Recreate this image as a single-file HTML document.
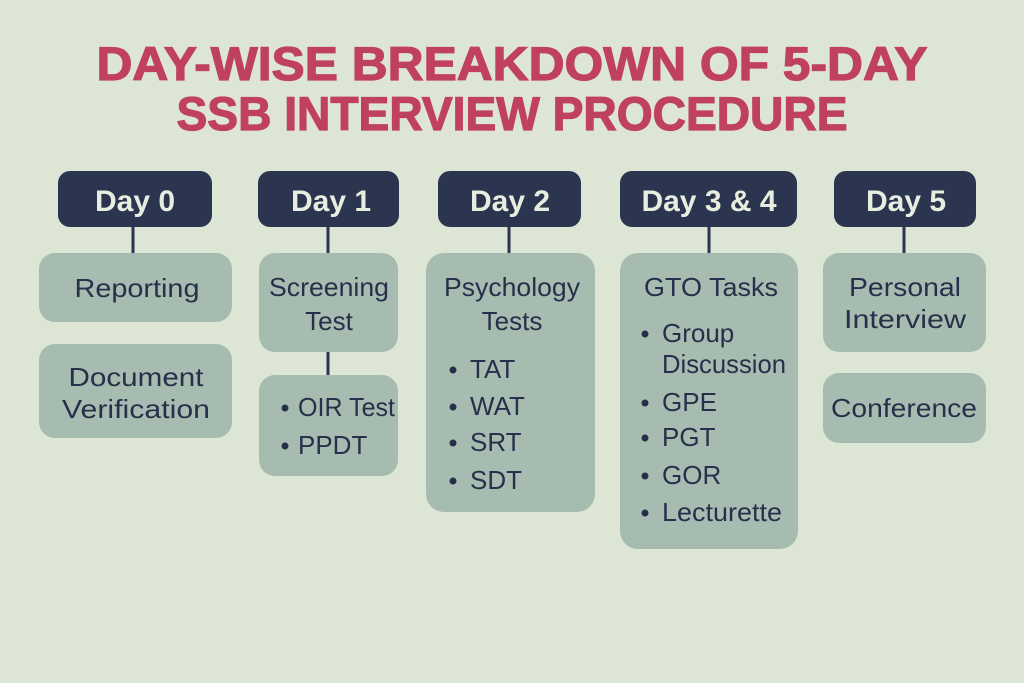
<!DOCTYPE html>
<html><head><meta charset="utf-8"><style>
html,body{margin:0;padding:0;background:#dde6d5;}
svg{display:block;}
.t{font-family:"Liberation Sans",sans-serif;}
.h{font-family:"Liberation Sans",sans-serif;font-weight:bold;font-size:30px;fill:#e8eedf;text-anchor:middle;}
.b{font-family:"Liberation Sans",sans-serif;font-size:26px;fill:#27304a;}
.c{text-anchor:middle;}
</style></head><body>
<svg width="1024" height="683" viewBox="0 0 1024 683" xmlns="http://www.w3.org/2000/svg">
<rect width="1024" height="683" fill="#dde6d5"/>
<text class="t" x="512" y="80" text-anchor="middle" font-weight="bold" font-size="47" fill="#c0415f" stroke="#c0415f" stroke-width="1.2" textLength="831" lengthAdjust="spacingAndGlyphs">DAY-WISE BREAKDOWN OF 5-DAY</text>
<text class="t" x="512" y="130" text-anchor="middle" font-weight="bold" font-size="47" fill="#c0415f" stroke="#c0415f" stroke-width="1.2" textLength="671" lengthAdjust="spacingAndGlyphs">SSB INTERVIEW PROCEDURE</text>
<g stroke="#2c3550" stroke-width="3">
<line x1="133" y1="226" x2="133" y2="254"/>
<line x1="328" y1="226" x2="328" y2="254"/>
<line x1="509" y1="226" x2="509" y2="254"/>
<line x1="709" y1="226" x2="709" y2="254"/>
<line x1="904" y1="226" x2="904" y2="254"/>
<line x1="328" y1="351" x2="328" y2="376"/>
</g>
<g fill="#2c3550">
<rect x="58" y="171" width="154" height="56" rx="12"/>
<rect x="258" y="171" width="141" height="56" rx="12"/>
<rect x="438" y="171" width="143" height="56" rx="12"/>
<rect x="620" y="171" width="177" height="56" rx="12"/>
<rect x="834" y="171" width="142" height="56" rx="12"/>
</g>
<text class="h" x="135" y="211">Day 0</text>
<text class="h" x="331" y="211">Day 1</text>
<text class="h" x="510" y="211">Day 2</text>
<text class="h" x="709" y="211">Day 3 &amp; 4</text>
<text class="h" x="906" y="211">Day 5</text>
<g fill="#a7bcb0">
<rect x="39" y="253" width="193" height="69" rx="16"/>
<rect x="39" y="344" width="193" height="94" rx="16"/>
<rect x="259" y="253" width="139" height="99" rx="16"/>
<rect x="259" y="375" width="139" height="101" rx="16"/>
<rect x="426" y="253" width="169" height="259" rx="18"/>
<rect x="620" y="253" width="178" height="296" rx="18"/>
<rect x="823" y="253" width="163" height="99" rx="16"/>
<rect x="823" y="373" width="163" height="70" rx="16"/>
</g>
<g>
<text class="b c" x="137" y="297" textLength="125" lengthAdjust="spacingAndGlyphs">Reporting</text>
<text class="b c" x="136" y="386" textLength="135" lengthAdjust="spacingAndGlyphs">Document</text>
<text class="b c" x="136" y="418" textLength="148" lengthAdjust="spacingAndGlyphs">Verification</text>
<text class="b c" x="329" y="296" textLength="120" lengthAdjust="spacingAndGlyphs">Screening</text>
<text class="b c" x="329" y="330">Test</text>
<text class="b" x="298" y="416" textLength="97" lengthAdjust="spacingAndGlyphs">OIR Test</text>
<text class="b" x="298" y="454">PPDT</text>
<text class="b c" x="512" y="296" textLength="136" lengthAdjust="spacingAndGlyphs">Psychology</text>
<text class="b c" x="512" y="330">Tests</text>
<text class="b" x="470" y="378">TAT</text>
<text class="b" x="470" y="415">WAT</text>
<text class="b" x="470" y="451">SRT</text>
<text class="b" x="470" y="489">SDT</text>
<text class="b c" x="711" y="296" textLength="134" lengthAdjust="spacingAndGlyphs">GTO Tasks</text>
<text class="b" x="662" y="342">Group</text>
<text class="b" x="662" y="373" textLength="124" lengthAdjust="spacingAndGlyphs">Discussion</text>
<text class="b" x="662" y="411">GPE</text>
<text class="b" x="662" y="446">PGT</text>
<text class="b" x="662" y="484">GOR</text>
<text class="b" x="662" y="521" textLength="120" lengthAdjust="spacingAndGlyphs">Lecturette</text>
<text class="b c" x="905" y="296" textLength="112" lengthAdjust="spacingAndGlyphs">Personal</text>
<text class="b c" x="905" y="328" textLength="122" lengthAdjust="spacingAndGlyphs">Interview</text>
<text class="b c" x="904" y="417" textLength="146" lengthAdjust="spacingAndGlyphs">Conference</text>
</g>
<g fill="#27304a">
<circle cx="285" cy="408" r="3.5"/><circle cx="285" cy="446" r="3.5"/>
<circle cx="453" cy="370" r="3.5"/><circle cx="453" cy="407" r="3.5"/><circle cx="453" cy="443" r="3.5"/><circle cx="453" cy="481" r="3.5"/>
<circle cx="645" cy="334" r="3.5"/><circle cx="645" cy="403" r="3.5"/><circle cx="645" cy="438" r="3.5"/><circle cx="645" cy="476" r="3.5"/><circle cx="645" cy="513" r="3.5"/>
</g>
</svg>
</body></html>
